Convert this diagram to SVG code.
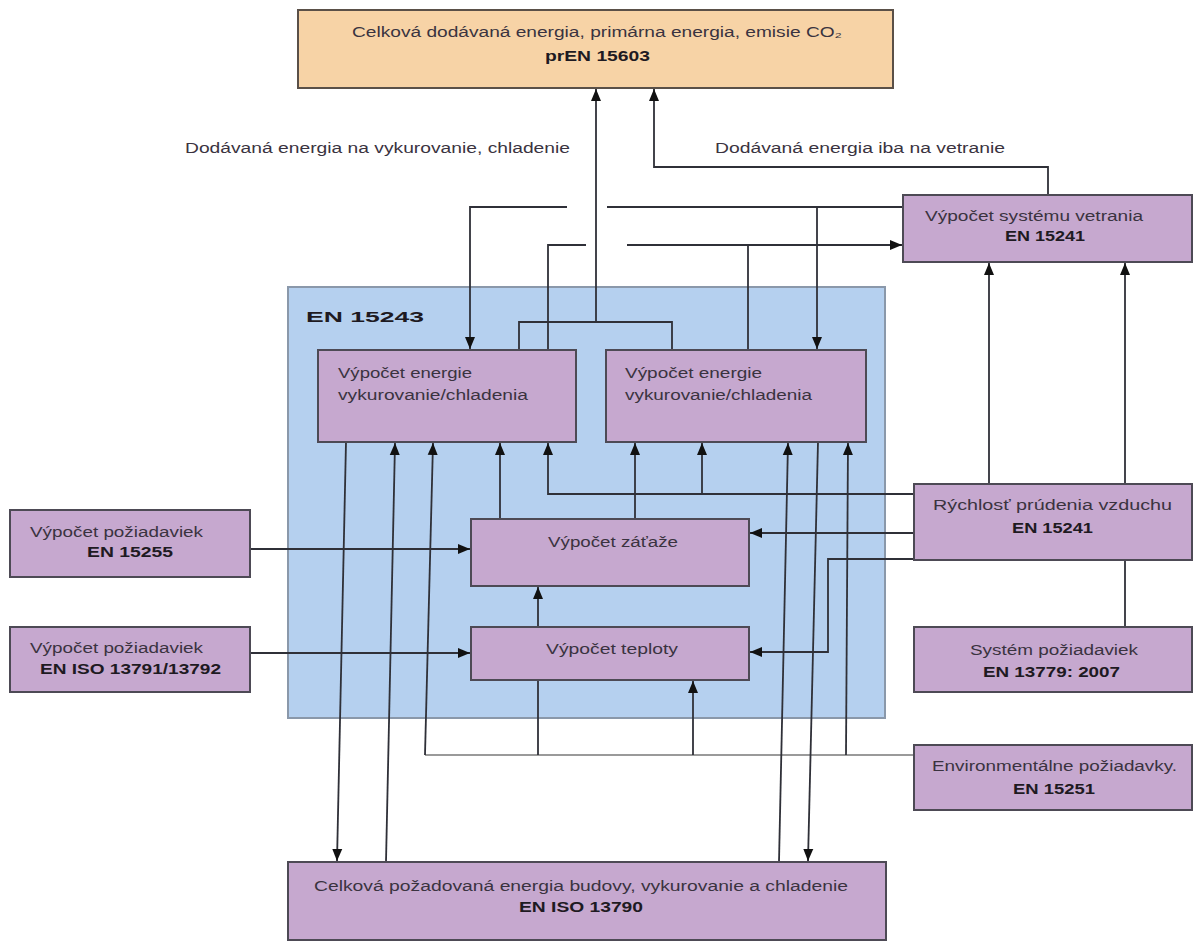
<svg xmlns="http://www.w3.org/2000/svg" width="1194" height="943" viewBox="0 0 1194 943">
<style>
.box{fill:#C6A8CF;stroke:#4d4a55;stroke-width:2}
.t{font-family:"Liberation Sans",Arial,sans-serif;font-size:14px;fill:#3a3340}
.b{font-weight:bold;fill:#1e1a22}
.ln{fill:none;stroke:#2f3038;stroke-width:1.8}
.lt{fill:none;stroke:#9a9a9a;stroke-width:1.8}
</style>
<defs>
<marker id="ah" markerUnits="userSpaceOnUse" markerWidth="12" markerHeight="12" viewBox="0 0 12 12" refX="12" refY="6" orient="auto">
<path d="M0,1 L12,6 L0,11 Z" fill="#111"/>
</marker>
</defs>
<rect width="1194" height="943" fill="#ffffff"/>

<g id="en15243">
<rect x="288" y="287" width="597" height="431" fill="#B5D0EF" stroke="#8a98aa" stroke-width="2"/>
<text class="t b" x="306" y="322" font-size="23" textLength="118" lengthAdjust="spacingAndGlyphs">EN 15243</text>
</g>

<g id="connectors">
<path class="ln" d="M519,350 V322 H672 V350"/>
<path class="ln" d="M596,322 V89" marker-end="url(#ah)"/>
<path class="ln" d="M1048,195 V167 H654 V89" marker-end="url(#ah)"/>
<path class="ln" d="M903,207 H607"/>
<path class="ln" d="M567,207 H470 V349" marker-end="url(#ah)"/>
<path class="ln" d="M817,207 V349" marker-end="url(#ah)"/>
<path class="ln" d="M548,350 V245 H586"/>
<path class="ln" d="M627,245 H902" stroke-width="2.4" marker-end="url(#ah)"/>
<path class="ln" d="M748,350 V245"/>
<path class="ln" d="M989,484 V263" marker-end="url(#ah)"/>
<path class="ln" d="M1125,484 V263" marker-end="url(#ah)"/>
<path class="ln" d="M1125,627 V560"/>
<path class="ln" d="M914,494 H548 V443" marker-end="url(#ah)"/>
<path class="ln" d="M702,494 V443" marker-end="url(#ah)"/>
<path class="ln" d="M914,533 H750" marker-end="url(#ah)"/>
<path class="ln" d="M914,559 H828 V652 H750" marker-end="url(#ah)"/>
<path class="ln" d="M500,519 V443" marker-end="url(#ah)"/>
<path class="ln" d="M635,519 V443" marker-end="url(#ah)"/>
<path class="ln" d="M538,627 V587" marker-end="url(#ah)"/>
<path class="ln" d="M250,549 H470" marker-end="url(#ah)"/>
<path class="ln" d="M250,653 H470" stroke-width="2.4" marker-end="url(#ah)"/>
<path class="lt" d="M914,755 H425"/>
<path class="ln" d="M425,755 L433,443" marker-end="url(#ah)"/>
<path class="ln" d="M538,755 V680"/>
<path class="ln" d="M693,755 V681" marker-end="url(#ah)"/>
<path class="ln" d="M846,755 L848,443" marker-end="url(#ah)"/>
<path class="ln" d="M346,442 L337,861" marker-end="url(#ah)"/>
<path class="ln" d="M386,862 L395,443" marker-end="url(#ah)"/>
<path class="ln" d="M779,862 L788,443" marker-end="url(#ah)"/>
<path class="ln" d="M818,442 L808,861" marker-end="url(#ah)"/>
</g>

<g id="labels">
<text class="t" x="185" y="153" textLength="385" lengthAdjust="spacingAndGlyphs">Dodávaná energia na vykurovanie, chladenie</text>
<text class="t" x="715" y="153" textLength="290" lengthAdjust="spacingAndGlyphs">Dodávaná energia iba na vetranie</text>
</g>

<g id="total">
<rect x="298" y="10" width="595" height="78" fill="#F7D3A6" stroke="#5a5048" stroke-width="2"/>
<text class="t" x="352" y="37" textLength="490" lengthAdjust="spacingAndGlyphs">Celková dodávaná energia, primárna energia, emisie CO₂</text>
<text class="t b" x="545" y="61" textLength="105" lengthAdjust="spacingAndGlyphs">prEN 15603</text>
</g>

<g id="vetranie">
<rect class="box" x="903" y="195" width="289" height="67"/>
<text class="t" x="925" y="221" textLength="218" lengthAdjust="spacingAndGlyphs">Výpočet systému vetrania</text>
<text class="t b" x="1005" y="241" textLength="80" lengthAdjust="spacingAndGlyphs">EN 15241</text>
</g>

<g id="energia1">
<rect class="box" x="318" y="350" width="258" height="92"/>
<text class="t" x="338" y="378" textLength="134" lengthAdjust="spacingAndGlyphs">Výpočet energie</text>
<text class="t" x="338" y="400" textLength="190" lengthAdjust="spacingAndGlyphs">vykurovanie/chladenia</text>
</g>

<g id="energia2">
<rect class="box" x="606" y="350" width="260" height="92"/>
<text class="t" x="625" y="378" textLength="137" lengthAdjust="spacingAndGlyphs">Výpočet energie</text>
<text class="t" x="625" y="400" textLength="187" lengthAdjust="spacingAndGlyphs">vykurovanie/chladenia</text>
</g>

<g id="zataz">
<rect class="box" x="471" y="519" width="278" height="67"/>
<text class="t" x="548" y="547" textLength="130" lengthAdjust="spacingAndGlyphs">Výpočet záťaže</text>
</g>

<g id="teplota">
<rect class="box" x="471" y="627" width="278" height="53"/>
<text class="t" x="546" y="654" textLength="132" lengthAdjust="spacingAndGlyphs">Výpočet teploty</text>
</g>

<g id="poziadavky1">
<rect class="box" x="10" y="510" width="240" height="67"/>
<text class="t" x="30" y="537" textLength="173" lengthAdjust="spacingAndGlyphs">Výpočet požiadaviek</text>
<text class="t b" x="87" y="557" textLength="86" lengthAdjust="spacingAndGlyphs">EN 15255</text>
</g>

<g id="poziadavky2">
<rect class="box" x="10" y="627" width="240" height="65"/>
<text class="t" x="30" y="653" textLength="173" lengthAdjust="spacingAndGlyphs">Výpočet požiadaviek</text>
<text class="t b" x="40" y="674" textLength="181" lengthAdjust="spacingAndGlyphs">EN ISO 13791/13792</text>
</g>

<g id="rychlost">
<rect class="box" x="914" y="484" width="278" height="76"/>
<text class="t" x="933" y="510" textLength="239" lengthAdjust="spacingAndGlyphs">Rýchlosť  prúdenia vzduchu</text>
<text class="t b" x="1012" y="533" textLength="81" lengthAdjust="spacingAndGlyphs">EN 15241</text>
</g>

<g id="system">
<rect class="box" x="914" y="627" width="278" height="65"/>
<text class="t" x="970" y="655" textLength="168" lengthAdjust="spacingAndGlyphs">Systém požiadaviek</text>
<text class="t b" x="983" y="677" textLength="137" lengthAdjust="spacingAndGlyphs">EN 13779: 2007</text>
</g>

<g id="environment">
<rect class="box" x="914" y="745" width="278" height="65"/>
<text class="t" x="932" y="771" textLength="245" lengthAdjust="spacingAndGlyphs">Environmentálne požiadavky.</text>
<text class="t b" x="1013" y="794" textLength="82" lengthAdjust="spacingAndGlyphs">EN 15251</text>
</g>

<g id="budova">
<rect class="box" x="288" y="862" width="598" height="78"/>
<text class="t" x="314" y="891" textLength="534" lengthAdjust="spacingAndGlyphs">Celková požadovaná  energia budovy, vykurovanie a chladenie</text>
<text class="t b" x="519" y="912" textLength="124" lengthAdjust="spacingAndGlyphs">EN ISO 13790</text>
</g>
</svg>
